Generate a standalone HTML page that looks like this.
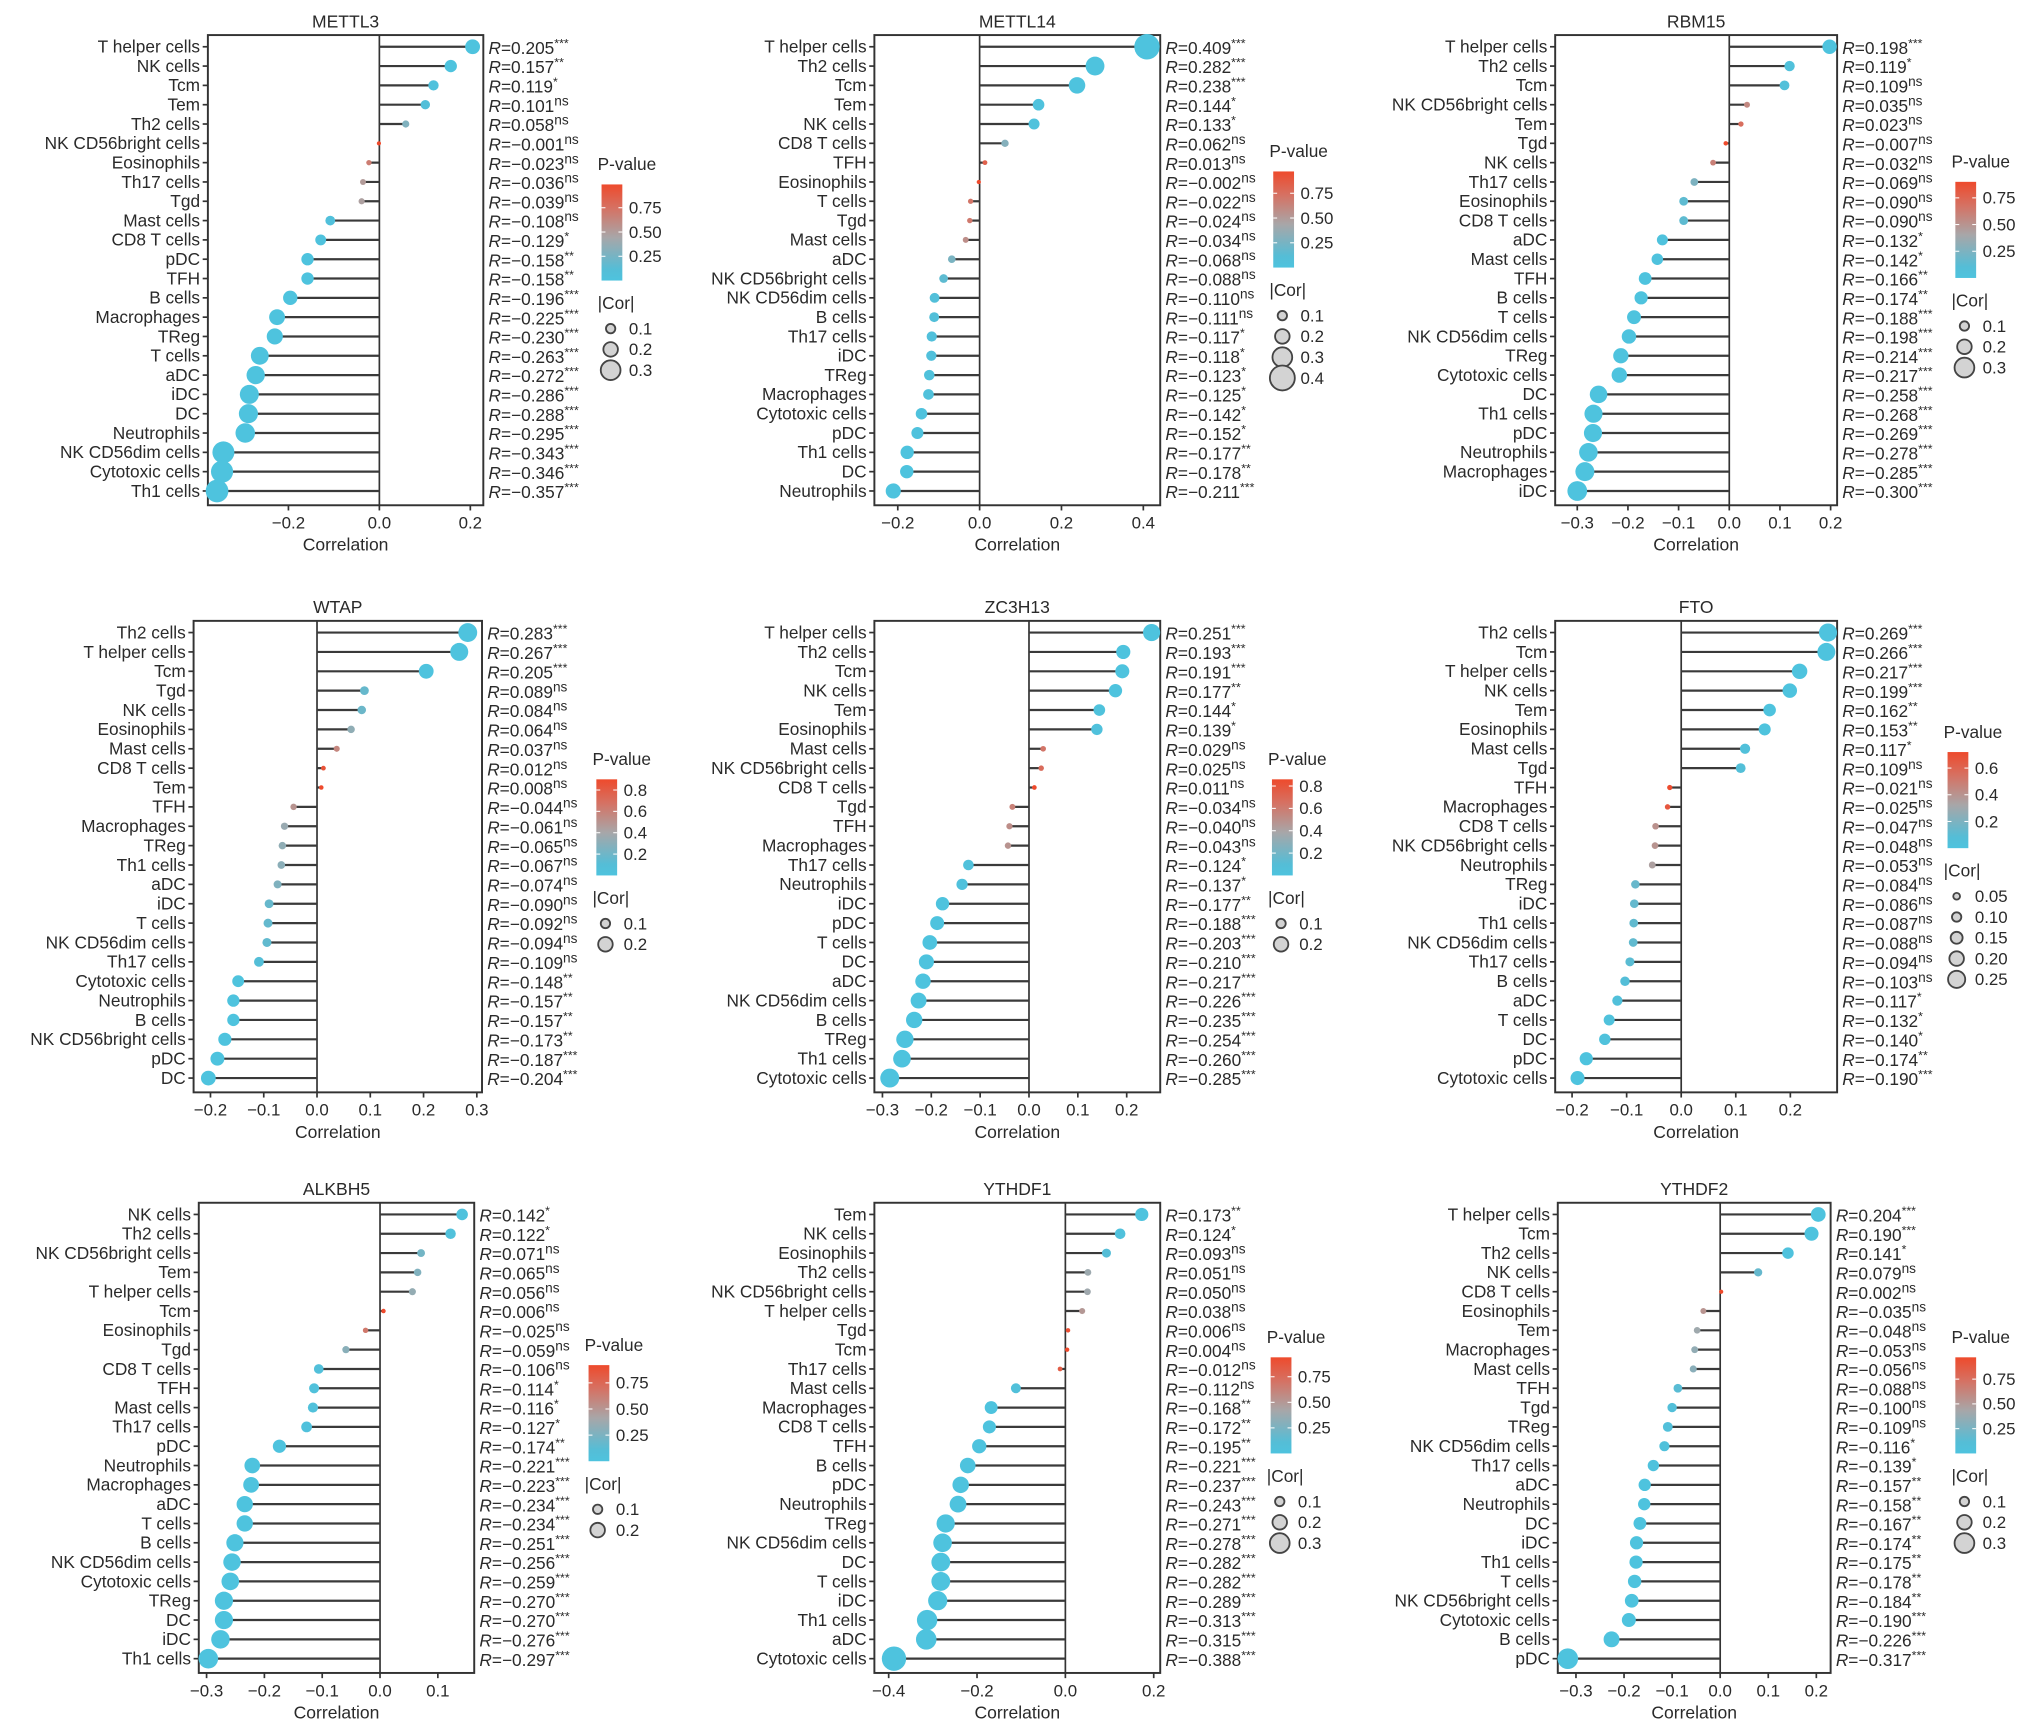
<!DOCTYPE html>
<html><head><meta charset="utf-8"><style>
html,body{margin:0;padding:0;background:#fff}
svg{display:block}
text{font-family:"Liberation Sans",Arial,sans-serif;fill:#2a2a2a}
</style></head><body>
<svg id="fig" width="2032" height="1734" viewBox="0 0 1564 1335" preserveAspectRatio="none" xmlns="http://www.w3.org/2000/svg">
<defs></defs>
</svg>
<script>
// ---- data ----
const cells1=["T helper cells","NK cells","Tcm","Tem","Th2 cells","NK CD56bright cells","Eosinophils","Th17 cells","Tgd","Mast cells","CD8 T cells","pDC","TFH","B cells","Macrophages","TReg","T cells","aDC","iDC","DC","Neutrophils","NK CD56dim cells","Cytotoxic cells","Th1 cells"];
const r1=[0.205,0.157,0.119,0.101,0.058,-0.001,-0.023,-0.036,-0.039,-0.108,-0.129,-0.158,-0.158,-0.196,-0.225,-0.230,-0.263,-0.272,-0.286,-0.288,-0.295,-0.343,-0.346,-0.357];
const s1=["***","**","*","ns","ns","ns","ns","ns","ns","ns","*","**","**","***","***","***","***","***","***","***","***","***","***","***"];
const p1=[0,0.004,0.03,0.07,0.29,0.99,0.68,0.51,0.48,0.05,0.02,0.004,0.004,0,0,0,0,0,0,0,0,0,0,0];

const cells2=["T helper cells","Th2 cells","Tcm","Tem","NK cells","CD8 T cells","TFH","Eosinophils","T cells","Tgd","Mast cells","aDC","NK CD56bright cells","NK CD56dim cells","B cells","Th17 cells","iDC","TReg","Macrophages","Cytotoxic cells","pDC","Th1 cells","DC","Neutrophils"];
const r2=[0.409,0.282,0.238,0.144,0.133,0.062,0.013,-0.002,-0.022,-0.024,-0.034,-0.068,-0.088,-0.110,-0.111,-0.117,-0.118,-0.123,-0.125,-0.142,-0.152,-0.177,-0.178,-0.211];
const s2=["***","***","***","*","*","ns","ns","ns","ns","ns","ns","ns","ns","ns","ns","*","*","*","*","*","*","**","**","***"];
const p2=[0,0,0,0.015,0.025,0.3,0.83,0.97,0.71,0.69,0.57,0.26,0.15,0.07,0.07,0.05,0.05,0.04,0.04,0.02,0.01,0.003,0.003,0];

const cells3=["T helper cells","Th2 cells","Tcm","NK CD56bright cells","Tem","Tgd","NK cells","Th17 cells","Eosinophils","CD8 T cells","aDC","Mast cells","TFH","B cells","T cells","NK CD56dim cells","TReg","Cytotoxic cells","DC","Th1 cells","pDC","Neutrophils","Macrophages","iDC"];
const r3=[0.198,0.119,0.109,0.035,0.023,-0.007,-0.032,-0.069,-0.090,-0.090,-0.132,-0.142,-0.166,-0.174,-0.188,-0.198,-0.214,-0.217,-0.258,-0.268,-0.269,-0.278,-0.285,-0.300];
const s3=["***","*","ns","ns","ns","ns","ns","ns","ns","ns","*","*","**","**","***","***","***","***","***","***","***","***","***","***"];
const p3=[0,0.04,0.06,0.56,0.7,0.9,0.6,0.25,0.14,0.14,0.02,0.02,0.005,0.004,0,0,0,0,0,0,0,0,0,0];

const cells4=["Th2 cells","T helper cells","Tcm","Tgd","NK cells","Eosinophils","Mast cells","CD8 T cells","Tem","TFH","Macrophages","TReg","Th1 cells","aDC","iDC","T cells","NK CD56dim cells","Th17 cells","Cytotoxic cells","Neutrophils","B cells","NK CD56bright cells","pDC","DC"];
const r4=[0.283,0.267,0.205,0.089,0.084,0.064,0.037,0.012,0.008,-0.044,-0.061,-0.065,-0.067,-0.074,-0.090,-0.092,-0.094,-0.109,-0.148,-0.157,-0.157,-0.173,-0.187,-0.204];
const s4=["***","***","***","ns","ns","ns","ns","ns","ns","ns","ns","ns","ns","ns","ns","ns","ns","ns","**","**","**","**","***","***"];
const p4=[0,0,0,0.17,0.19,0.32,0.57,0.85,0.9,0.5,0.35,0.32,0.3,0.26,0.17,0.16,0.15,0.09,0.009,0.006,0.006,0.003,0.001,0];

const cells5=["T helper cells","Th2 cells","Tcm","NK cells","Tem","Eosinophils","Mast cells","NK CD56bright cells","CD8 T cells","Tgd","TFH","Macrophages","Th17 cells","Neutrophils","iDC","pDC","T cells","DC","aDC","NK CD56dim cells","B cells","TReg","Th1 cells","Cytotoxic cells"];
const r5=[0.251,0.193,0.191,0.177,0.144,0.139,0.029,0.025,0.011,-0.034,-0.040,-0.043,-0.124,-0.137,-0.177,-0.188,-0.203,-0.210,-0.217,-0.226,-0.235,-0.254,-0.260,-0.285];
const s5=["***","***","***","**","*","*","ns","ns","ns","ns","ns","ns","*","*","**","***","***","***","***","***","***","***","***","***"];
const p5=[0,0,0,0.003,0.02,0.03,0.63,0.68,0.86,0.57,0.51,0.48,0.04,0.03,0.004,0,0,0,0,0,0,0,0,0];

const cells6=["Th2 cells","Tcm","T helper cells","NK cells","Tem","Eosinophils","Mast cells","Tgd","TFH","Macrophages","CD8 T cells","NK CD56bright cells","Neutrophils","TReg","iDC","Th1 cells","NK CD56dim cells","Th17 cells","B cells","aDC","T cells","DC","pDC","Cytotoxic cells"];
const r6=[0.269,0.266,0.217,0.199,0.162,0.153,0.117,0.109,-0.021,-0.025,-0.047,-0.048,-0.053,-0.084,-0.086,-0.087,-0.088,-0.094,-0.103,-0.117,-0.132,-0.140,-0.174,-0.190];
const s6=["***","***","***","***","**","**","*","ns","ns","ns","ns","ns","ns","ns","ns","ns","ns","ns","ns","*","*","*","**","***"];
const p6=[0,0,0,0,0.004,0.006,0.04,0.06,0.71,0.66,0.41,0.4,0.35,0.14,0.13,0.12,0.12,0.1,0.07,0.04,0.02,0.02,0.004,0];

const cells7=["NK cells","Th2 cells","NK CD56bright cells","Tem","T helper cells","Tcm","Eosinophils","Tgd","CD8 T cells","TFH","Mast cells","Th17 cells","pDC","Neutrophils","Macrophages","aDC","T cells","B cells","NK CD56dim cells","Cytotoxic cells","TReg","DC","iDC","Th1 cells"];
const r7=[0.142,0.122,0.071,0.065,0.056,0.006,-0.025,-0.059,-0.106,-0.114,-0.116,-0.127,-0.174,-0.221,-0.223,-0.234,-0.234,-0.251,-0.256,-0.259,-0.270,-0.270,-0.276,-0.297];
const s7=["*","*","ns","ns","ns","ns","ns","ns","ns","*","*","*","**","***","***","***","***","***","***","***","***","***","***","***"];
const p7=[0.02,0.04,0.22,0.27,0.34,0.92,0.66,0.3,0.06,0.04,0.04,0.03,0.004,0,0,0,0,0,0,0,0,0,0,0];

const cells8=["Tem","NK cells","Eosinophils","Th2 cells","NK CD56bright cells","T helper cells","Tgd","Tcm","Th17 cells","Mast cells","Macrophages","CD8 T cells","TFH","B cells","pDC","Neutrophils","TReg","NK CD56dim cells","DC","T cells","iDC","Th1 cells","aDC","Cytotoxic cells"];
const r8=[0.173,0.124,0.093,0.051,0.050,0.038,0.006,0.004,-0.012,-0.112,-0.168,-0.172,-0.195,-0.221,-0.237,-0.243,-0.271,-0.278,-0.282,-0.282,-0.289,-0.313,-0.315,-0.388];
const s8=["**","*","ns","ns","ns","ns","ns","ns","ns","ns","**","**","**","***","***","***","***","***","***","***","***","***","***","***"];
const p8=[0.003,0.03,0.11,0.38,0.39,0.5,0.91,0.94,0.83,0.05,0.004,0.003,0.001,0,0,0,0,0,0,0,0,0,0,0];

const cells9=["T helper cells","Tcm","Th2 cells","NK cells","CD8 T cells","Eosinophils","Tem","Macrophages","Mast cells","TFH","Tgd","TReg","NK CD56dim cells","Th17 cells","aDC","Neutrophils","DC","iDC","Th1 cells","T cells","NK CD56bright cells","Cytotoxic cells","B cells","pDC"];
const r9=[0.204,0.190,0.141,0.079,0.002,-0.035,-0.048,-0.053,-0.056,-0.088,-0.100,-0.109,-0.116,-0.139,-0.157,-0.158,-0.167,-0.174,-0.175,-0.178,-0.184,-0.190,-0.226,-0.317];
const s9=["***","***","*","ns","ns","ns","ns","ns","ns","ns","ns","ns","*","*","**","**","**","**","**","**","**","***","***","***"];
const p9=[0,0,0.02,0.18,0.97,0.54,0.4,0.35,0.32,0.13,0.08,0.06,0.04,0.02,0.006,0.006,0.004,0.003,0.003,0.003,0.002,0,0,0];

const titles=["METTL3","METTL14","RBM15","WTAP","ZC3H13","FTO","ALKBH5","YTHDF1","YTHDF2"];
const ticks1=[-0.2,0,0.2], ticks2=[-0.2,0,0.2,0.4], ticks3=[-0.3,-0.2,-0.1,0,0.1,0.2];
const ticks4=[-0.2,-0.1,0,0.1,0.2,0.3], ticks5=[-0.3,-0.2,-0.1,0,0.1,0.2], ticks6=[-0.2,-0.1,0,0.1,0.2];
const ticks7=[-0.3,-0.2,-0.1,0,0.1], ticks8=[-0.4,-0.2,0,0.2], ticks9=[-0.3,-0.2,-0.1,0,0.1,0.2];
const pmax=[0.99,0.97,0.9,0.9,0.86,0.72,0.92,0.94,0.97];
const pTicks=[[0.25,0.5,0.75],[0.25,0.5,0.75],[0.25,0.5,0.75],[0.2,0.4,0.6,0.8],[0.2,0.4,0.6,0.8],[0.2,0.4,0.6],[0.25,0.5,0.75],[0.25,0.5,0.75],[0.25,0.5,0.75]];
const pTickLabels=[["0.25","0.50","0.75"],["0.25","0.50","0.75"],["0.25","0.50","0.75"],["0.2","0.4","0.6","0.8"],["0.2","0.4","0.6","0.8"],["0.2","0.4","0.6"],["0.25","0.50","0.75"],["0.25","0.50","0.75"],["0.25","0.50","0.75"]];
const corVals=[[0.1,0.2,0.3],[0.1,0.2,0.3,0.4],[0.1,0.2,0.3],[0.1,0.2],[0.1,0.2],[0.05,0.1,0.15,0.2,0.25],[0.1,0.2],[0.1,0.2,0.3],[0.1,0.2,0.3]];
const corLabels=[["0.1","0.2","0.3"],["0.1","0.2","0.3","0.4"],["0.1","0.2","0.3"],["0.1","0.2"],["0.1","0.2"],["0.05","0.10","0.15","0.20","0.25"],["0.1","0.2"],["0.1","0.2","0.3"],["0.1","0.2","0.3"]];

// ---- layout (display units, viewBox) ----
const L=[
 {x0:160,x1:372,z:292,u:350,y0:36,y1:378,lx:463,ly:131},
 {x0:673,x1:893,z:754,u:315,y0:36,y1:378,lx:980,ly:121},
 {x0:1197,x1:1414,z:1331,u:390,y0:36,y1:378,lx:1505,ly:129},
 {x0:149,x1:371,z:244,u:410,y0:487,y1:830,lx:459,ly:589},
 {x0:673,x1:893,z:792,u:376,y0:487,y1:830,lx:979,ly:589},
 {x0:1197,x1:1414,z:1294,u:420,y0:487,y1:830,lx:1499,ly:568},
 {x0:153,x1:365,z:292.5,u:445,y0:935,y1:1277,lx:453,ly:1040},
 {x0:673,x1:893,z:820,u:340,y0:935,y1:1277,lx:978,ly:1034},
 {x0:1199,x1:1409,z:1324,u:370,y0:935,y1:1277,lx:1505,ly:1034}
];
const ALL=[[cells1,r1,s1,p1,ticks1],[cells2,r2,s2,p2,ticks2],[cells3,r3,s3,p3,ticks3],[cells4,r4,s4,p4,ticks4],[cells5,r5,s5,p5,ticks5],[cells6,r6,s6,p6,ticks6],[cells7,r7,s7,p7,ticks7],[cells8,r8,s8,p8,ticks8],[cells9,r9,s9,p9,ticks9]];

const NS="http://www.w3.org/2000/svg";
const svg=document.getElementById('fig');
function mk(tag,attrs,parent,txt){const e=document.createElementNS(NS,tag);for(const k in attrs)e.setAttribute(k,attrs[k]);if(txt!=null)e.textContent=txt;(parent||svg).appendChild(e);return e;}
function hex(c){return [parseInt(c.slice(1,3),16),parseInt(c.slice(3,5),16),parseInt(c.slice(5,7),16)];}
const stops=[[0,"#4EC3DE"],[0.12,"#55BDD6"],[0.45,"#A8A6A8"],[0.75,"#D57264"],[1,"#EE4A2C"]];
function col(t){t=Math.max(0,Math.min(1,t));for(let i=1;i<stops.length;i++){if(t<=stops[i][0]){const a=stops[i-1],b=stops[i];const f=(t-a[0])/(b[0]-a[0]);const A=hex(a[1]),B=hex(b[1]);return "rgb("+A.map((v,j)=>Math.round(v+(B[j]-v)*f)).join(",")+")";}}return stops[stops.length-1][1];}
function rad(v){return 1.6+20*Math.abs(v);}
const grad=mk('linearGradient',{id:'pg',x1:0,y1:1,x2:0,y2:0},svg.querySelector('defs'));
stops.forEach(s=>mk('stop',{offset:s[0],'stop-color':s[1]},grad));

ALL.forEach((D,k)=>{
  const [cells,rv,st,pv,tk]=D, g=L[k];
  const G=mk('g',{});
  
  
  const n=cells.length, step=(g.y1-g.y0)/(n-1);
  const yOf=i=>g.y0+i*step, xOf=v=>g.z+v*g.u;
  const top=g.y0-9, bot=g.y1+11;
  const t=mk('text',{x:(g.x0+g.x1)/2,y:top-6,'text-anchor':'middle','font-size':13.5},G,titles[k]);
  
  
  const fr=mk('rect',{x:g.x0,y:top,width:g.x1-g.x0,height:bot-top,fill:'none',stroke:'#333','stroke-width':1.5},G);
  
  
  const zl=mk('line',{x1:g.z,x2:g.z,y1:top,y2:bot,stroke:'#333','stroke-width':1.3},G);
  
  
  tk.forEach(v=>{
    const x=xOf(v);
    mk('line',{x1:x,x2:x,y1:bot,y2:bot+4,stroke:'#333','stroke-width':1.3},G);
    const tl=mk('text',{x:x,y:bot+18,'text-anchor':'middle','font-size':13,fill:'#3a3a3a'},G,(v<0?'\u2212':'')+Math.abs(v).toFixed(1));
    
    
  });
  const xl=mk('text',{x:(g.x0+g.x1)/2,y:bot+35,'text-anchor':'middle','font-size':13.5},G,'Correlation');
  
  
  cells.forEach((c,i)=>{
    const y=yOf(i);
    mk('line',{x1:g.x0-4,x2:g.x0,y1:y,y2:y,stroke:'#333','stroke-width':1.3},G);
    const lb=mk('text',{x:g.x0-6,y:y+4.5,'text-anchor':'end','font-size':13.3},G,c);
    
    
    const ln=mk('line',{x1:g.z,x2:xOf(rv[i]),y1:y,y2:y,stroke:'#3a3a3a','stroke-width':1.7},G);
    
    
    const dot=mk('circle',{cx:xOf(rv[i]),cy:y,r:rad(rv[i]),fill:col(pv[i]/pmax[k])},G);
    
    
    const rt=mk('text',{x:g.x1+4,y:y+5.5,'font-size':13.3,fill:'#3a3a3a'},G);
    
    
    mk('tspan',{'font-style':'italic'},rt,'R');
    mk('tspan',{},rt,'='+(rv[i]<0?'\u2212':'')+Math.abs(rv[i]).toFixed(3));
    mk('tspan',{dy:-5,'font-size':st[i]==='ns'?10.5:9.5},rt,st[i]);
  });
  const lg=mk('g',{},G);
  
  
  const lx=g.lx, ly=g.ly;
  mk('text',{x:lx-3,y:ly,'font-size':13.3},lg,'P-value');
  const bx=lx, by=ly+11, bh=74, bw=16;
  mk('rect',{x:bx,y:by,width:bw,height:bh,fill:'url(#pg)'},lg);
  pTicks[k].forEach((v,j)=>{
    const yy=by+bh-(v/pmax[k])*bh;
    mk('line',{x1:bx,x2:bx+3,y1:yy,y2:yy,stroke:'#fff','stroke-width':0.8},lg);
    mk('line',{x1:bx+bw-3,x2:bx+bw,y1:yy,y2:yy,stroke:'#fff','stroke-width':0.8},lg);
    mk('text',{x:bx+bw+5,y:yy+4.5,'font-size':13,fill:'#3a3a3a'},lg,pTickLabels[k][j]);
  });
  const cy0=by+bh+22;
  mk('text',{x:lx-3,y:cy0,'font-size':13.3},lg,'|Cor|');
  corVals[k].forEach((v,j)=>{
    const yy=cy0+15+j*16;
    mk('circle',{cx:bx+7,cy:yy,r:rad(v),fill:'#d3d3d3',stroke:'#444','stroke-width':1.4},lg);
    mk('text',{x:bx+bw+5,y:yy+4.5,'font-size':13,fill:'#3a3a3a'},lg,corLabels[k][j]);
  });
});
</script>
</body></html>
